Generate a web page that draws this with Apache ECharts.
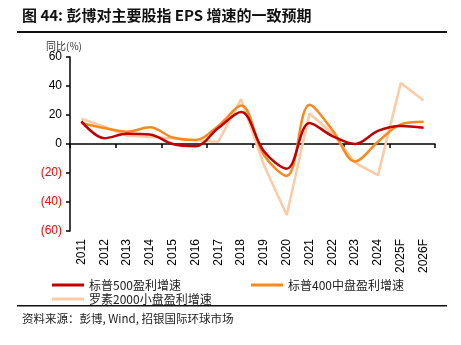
<!DOCTYPE html>
<html>
<head>
<meta charset="utf-8">
<script src="https://cdn.jsdelivr.net/npm/echarts@6/dist/echarts.min.js"></script>
<style>
  html, body { margin: 0; padding: 0; background: #fff; }
  #main { width: 461px; height: 345px; }
</style>
</head>
<body>
<div id="main"></div>
<script>
// 年份
var years = ['2011', '2012', '2013', '2014', '2015', '2016', '2017', '2018', '2019', '2020', '2021', '2022', '2023', '2024', '2025F', '2026F'];
// 同比(%)
var sp500 = [15.6, 4, 7, 6.5, 0, -1.5, 11, 22, -5, -17, 14.5, 5.5, 0, 9, 12.4, 11.2];
var sp400 = [14.5, 11, 8.5, 11.5, 4.5, 2.8, 12.5, 26.5, -7.6, -22, 27, 9.7, -12, 1.6, 13.5, 15.4];
var russell = [17.5, 12, 5.7, 4.8, 4, 2.5, 1.6, 31, -14.5, -49, 21, 7.4, -13, -21.5, 42, 30];

var names = ['标普500盈利增速', '标普400中盘盈利增速', '罗素2000小盘盈利增速'];
var colors = ['#C00000', '#F7891F', '#FBCBA5'];

var numFont = 'Liberation Sans, Arial, sans-serif';
var cjkFont = 'Noto Sans CJK SC, sans-serif';

var chart = echarts.init(document.getElementById('main'));
var option = {
  animation: false,
  grid: { left: 70, right: 26, top: 57, bottom: 114 },
  title: {
    text: '图 44: 彭博对主要股指 EPS 增速的一致预期',
    left: 17, top: 3,
    textStyle: { fontSize: 15, fontWeight: 'bold', color: '#111', fontFamily: cjkFont }
  },
  legend: [
    {
      data: [names[0], names[1]],
      left: 47, top: 274, itemGap: 70,
      itemWidth: 32, itemHeight: 3,
      icon: 'rect',
      textStyle: { fontSize: 12, color: '#222', fontFamily: cjkFont }
    },
    {
      data: [names[2]],
      left: 47, top: 288,
      itemWidth: 32, itemHeight: 3,
      icon: 'rect',
      textStyle: { fontSize: 12, color: '#222', fontFamily: cjkFont }
    }
  ],
  xAxis: [
    {
      type: 'category',
      data: years,
      axisLine: { onZero: true, lineStyle: { color: '#000', width: 1.5 } },
      axisTick: { show: true, length: 4, lineStyle: { color: '#000', width: 1.5 } },
      axisLabel: { show: false },
      splitLine: { show: false }
    },
    {
      type: 'category',
      data: years,
      position: 'bottom',
      axisLine: { show: false, onZero: false },
      axisTick: { show: false },
      axisLabel: { rotate: 90, fontSize: 12, color: '#000', margin: 8, fontFamily: numFont, interval: 0 },
      splitLine: { show: false }
    }
  ],
  yAxis: {
    type: 'value',
    min: -60, max: 60, interval: 20,
    name: '同比(%)',
    nameLocation: 'end',
    nameGap: 6,
    nameTextStyle: { fontSize: 10, color: '#333', fontFamily: cjkFont, align: 'right', padding: [0, -12, 0, 0] },
    axisLine: { show: true, lineStyle: { color: '#000', width: 1.5 } },
    axisTick: { show: true, length: 4, lineStyle: { color: '#000', width: 1.5 } },
    axisLabel: {
      fontSize: 12, margin: 8, fontFamily: numFont,
      formatter: function (v) { return v < 0 ? '(' + (-v) + ')' : String(v); },
      color: function (v) { return Number(v) < 0 ? '#FF0000' : '#000'; }
    },
    splitLine: { show: false }
  },
  series: [
    {
      name: names[2], type: 'line', data: russell, smooth: false,
      symbol: 'none', z: 1,
      itemStyle: { color: colors[2] },
      lineStyle: { color: colors[2], width: 2.5 }
    },
    {
      name: names[0], type: 'line', data: sp500, smooth: 0.35,
      symbol: 'none', z: 3,
      itemStyle: { color: colors[0] },
      lineStyle: { color: colors[0], width: 2.5 }
    },
    {
      name: names[1], type: 'line', data: sp400, smooth: 0.35,
      symbol: 'none', z: 2,
      itemStyle: { color: colors[1] },
      lineStyle: { color: colors[1], width: 2.5 }
    }
  ],
  graphic: [
    { type: 'rect', shape: { x: 17, y: 31, width: 430, height: 2 }, style: { fill: '#111' } },
    { type: 'rect', shape: { x: 17, y: 305, width: 430, height: 1.5 }, style: { fill: '#111' } },
    {
      type: 'text', left: 22, top: 313,
      style: { text: '资料来源：彭博, Wind, 招银国际环球市场', fontSize: 11.5, fill: '#222', fontFamily: cjkFont }
    }
  ]
};
chart.setOption(option);
</script>
</body>
</html>
